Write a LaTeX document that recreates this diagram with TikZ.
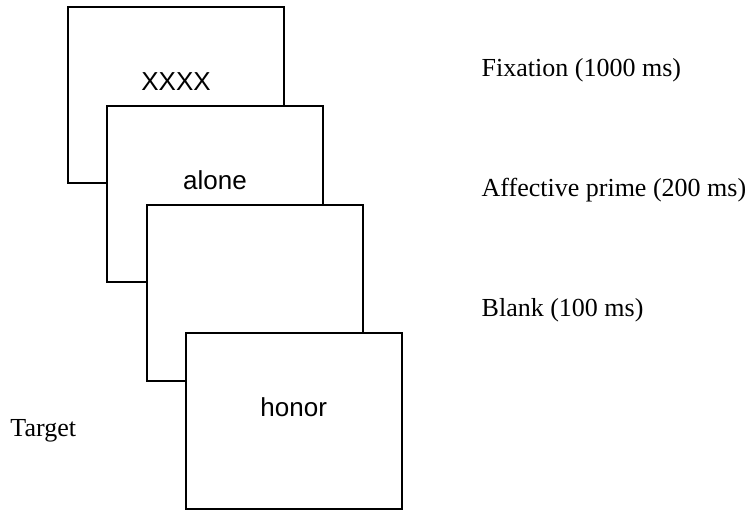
\documentclass[tikz,border=0pt]{standalone}
\usepackage{fontspec}
\setmainfont{Liberation Serif}
\setsansfont{Liberation Sans}
\begin{document}
\begin{tikzpicture}[x=0.5pt,y=-0.5pt,line width=1pt]
        \useasboundingbox (0,0) rectangle (750,511);
        % the four screens, later ones lie over earlier ones
        \foreach \name/\x/\y in {fix/176/95.3, prime/215/193.7, blank/255/293.3, target/293.7/421.3}
        {
            \node at (\x,\y)[draw,fill=white,minimum width=108pt,minimum height=88pt,inner sep=0pt] (\name) {};
        }
        \node at (176,90.7)[anchor=base,inner sep=0pt,font=\sffamily\fontsize{13}{15}\selectfont] (xxxx) {XXXX};
        \node at (215,189)[anchor=base,inner sep=0pt,font=\sffamily\fontsize{13}{15}\selectfont] (alone) {alone};
        \node at (293.7,416.7)[anchor=base,inner sep=0pt,font=\sffamily\fontsize{13}{15}\selectfont] (honor) {honor};
        % timing labels
        \node at (480.7,76.5)[anchor=base west,inner sep=0pt,font=\fontsize{13}{15}\selectfont] (fixlabel) {Fixation (1000 ms)};
        \node at (480.7,196.5)[anchor=base west,inner sep=0pt,font=\fontsize{13}{15}\selectfont] (primelabel) {Affective prime (200 ms)};
        \node at (480.7,316.5)[anchor=base west,inner sep=0pt,font=\fontsize{13}{15}\selectfont] (blanklabel) {Blank (100 ms)};
        \node at (9.5,436.5)[anchor=base west,inner sep=0pt,font=\fontsize{13}{15}\selectfont] (targetlabel) {Target};
    \end{tikzpicture}
\end{document}
